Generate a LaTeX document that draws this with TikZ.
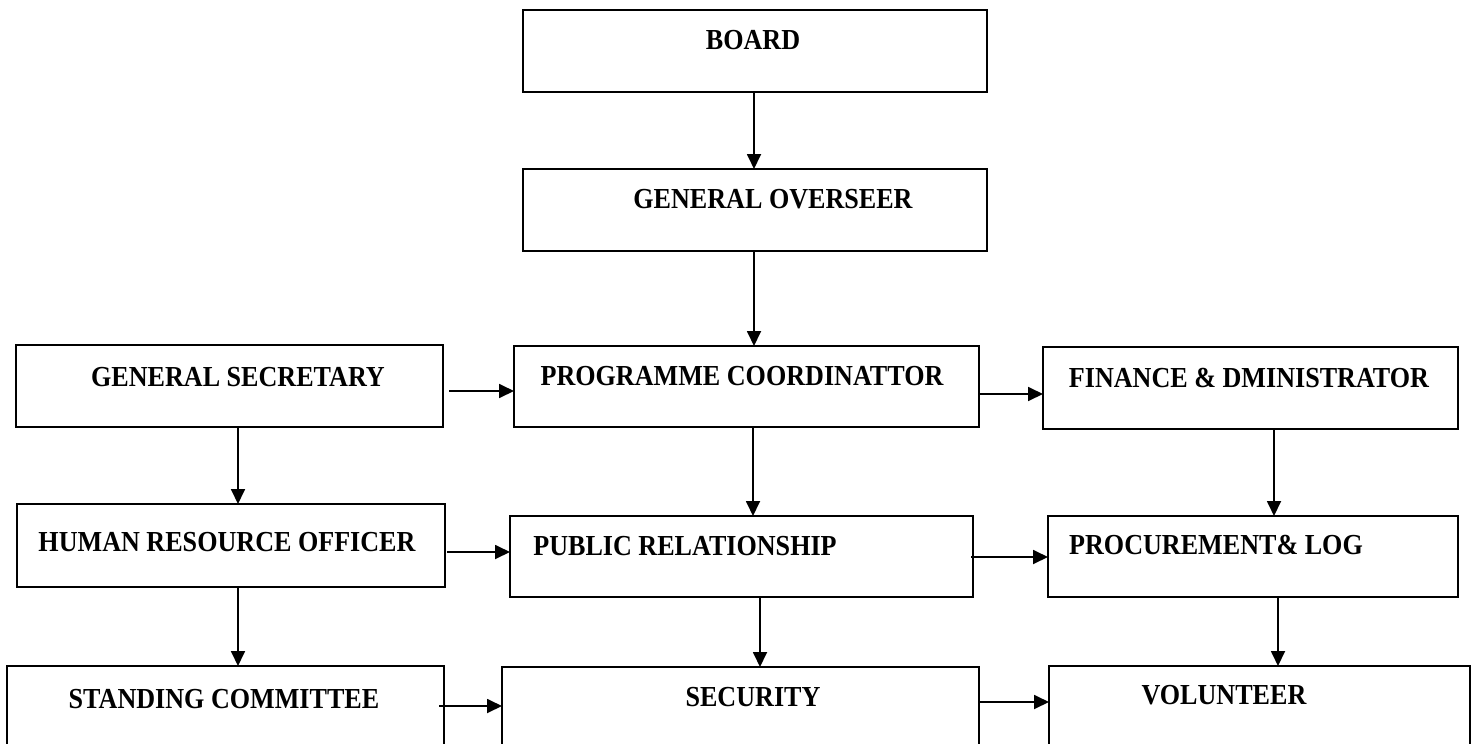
\documentclass[tikz,border=0pt]{standalone}
\usepackage{fontspec}
\setmainfont{Liberation Serif}[FakeStretch=0.9]
\usetikzlibrary{arrows.meta}
\begin{document}
\begin{tikzpicture}[x=1pt,y=-1pt,
  box/.style={draw=black,line width=1.8pt,rectangle,inner sep=0pt,outer sep=0pt,fill=white},
  lbl/.style={font=\bfseries\fontsize{29}{34}\selectfont,anchor=base,inner sep=0pt},
  arr/.style={draw=black,line width=1.8pt,-{Triangle[length=15pt,width=14pt]}}]
\useasboundingbox (0,0) rectangle (1478,744);
\clip (0,0) rectangle (1478,744);
\fill[white] (0,0) rectangle (1478,744);
% boxes
\node[box,minimum width=464pt,minimum height=82pt] (board) at (755,51) {};
\node[box,minimum width=464pt,minimum height=82pt] (go) at (755,210) {};
\node[box,minimum width=427pt,minimum height=82pt] (gs) at (229.5,386) {};
\node[box,minimum width=465pt,minimum height=81pt] (pc) at (746.5,386.5) {};
\node[box,minimum width=415pt,minimum height=82pt] (fa) at (1250.5,388) {};
\node[box,minimum width=428pt,minimum height=83pt] (hr) at (231,545.5) {};
\node[box,minimum width=463pt,minimum height=81pt] (pr) at (741.5,556.5) {};
\node[box,minimum width=410pt,minimum height=81pt] (pl) at (1253,556.5) {};
\node[box,minimum width=437pt,minimum height=104pt] (sc) at (225.5,718) {};
\node[box,minimum width=477pt,minimum height=103pt] (sec) at (740.5,718.5) {};
\node[box,minimum width=421pt,minimum height=104pt] (vol) at (1259.5,718) {};
% labels
\node[lbl] (tboard) at (753,49.5) {BOARD};
\node[lbl] (tgo) at (773,208) {GENERAL OVERSEER};
\node[lbl] (tgs) at (238,386) {GENERAL SECRETARY};
\node[lbl] (tpc) at (742,385) {PROGRAMME COORDINATTOR};
\node[lbl] (tfa) at (1249,387) {FINANCE \& DMINISTRATOR};
\node[lbl] (thr) at (227,551) {HUMAN RESOURCE OFFICER};
\node[lbl] (tpr) at (685,555) {PUBLIC RELATIONSHIP};
\node[lbl] (tpl) at (1216,554) {PROCUREMENT\& LOG};
\node[lbl] (tsc) at (224,708) {STANDING COMMITTEE};
\node[lbl] (tsec) at (753,706) {SECURITY};
\node[lbl] (tvol) at (1224,704) {VOLUNTEER};
% vertical connectors
\draw[arr] (754,0 |- board.south) -- (754,0 |- go.north);
\draw[arr] (754,0 |- go.south) -- (754,0 |- pc.north);
\draw[arr] (238,0 |- gs.south) -- (238,0 |- hr.north);
\draw[arr] (753,0 |- pc.south) -- (753,0 |- pr.north);
\draw[arr] (1274,0 |- fa.south) -- (1274,0 |- pl.north);
\draw[arr] (238,0 |- hr.south) -- (238,0 |- sc.north);
\draw[arr] (760,0 |- pr.south) -- (760,0 |- sec.north);
\draw[arr] (1278,0 |- pl.south) -- (1278,0 |- vol.north);
% horizontal connectors
\coordinate (s1) at (449,391);
\coordinate (s2) at (979,394);
\coordinate (s3) at (447,552);
\coordinate (s4) at (971,557);
\coordinate (s5) at (439,706);
\coordinate (s6) at (979,702);
\draw[arr] (s1) -- (s1 -| pc.west);
\draw[arr] (s2) -- (s2 -| fa.west);
\draw[arr] (s3) -- (s3 -| pr.west);
\draw[arr] (s4) -- (s4 -| pl.west);
\draw[arr] (s5) -- (s5 -| sec.west);
\draw[arr] (s6) -- (s6 -| vol.west);
\end{tikzpicture}
\end{document}
